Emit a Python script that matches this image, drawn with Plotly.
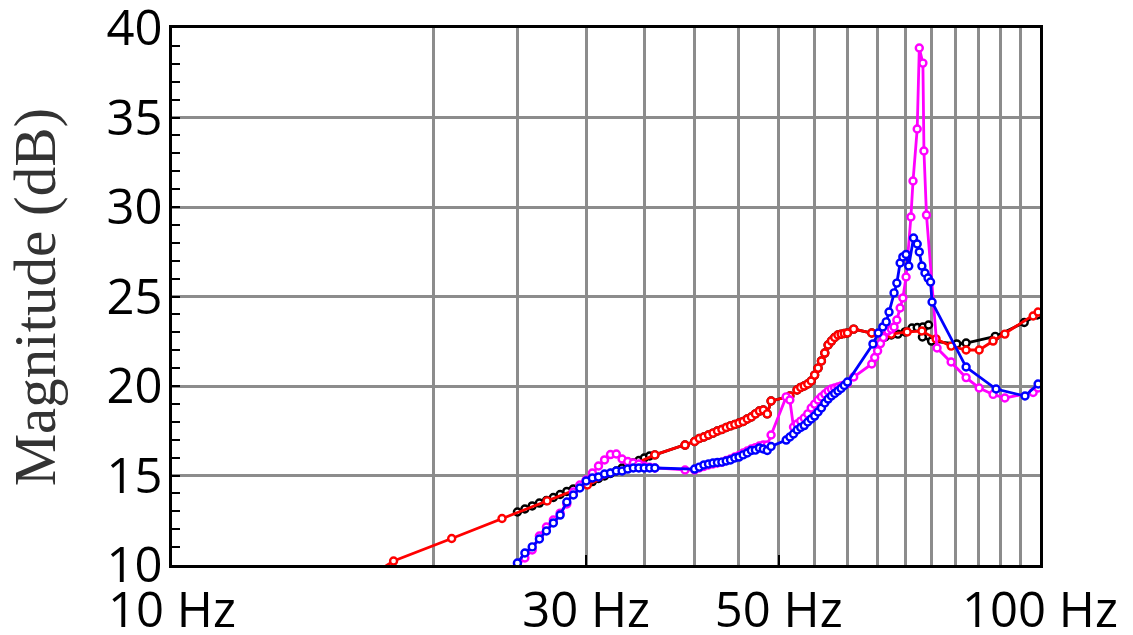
import plotly.graph_objects as go

# ---------------- data (frequency in Hz, magnitude in dB) ----------------
black_freq = [25, 25.5, 26, 26.5, 27, 27.5, 28, 28.5, 29, 29.5, 30, 30.5, 31, 31.5, 32, 32.5,
              33, 33.5, 34, 34.5, 35, 35.5, 36, 39, 40, 40.5, 41, 41.5, 42, 42.5, 43, 43.5, 44,
              44.5, 45, 45.5, 46, 46.5, 47, 47.5, 48, 48.5, 49, 51.5, 52.5, 53, 53.5, 54, 54.5,
              55, 55.5, 56, 56.5, 57, 57.5, 58, 58.5, 59, 59.5, 60, 61, 64, 66.3, 67.4, 68.6,
              69.9, 71.2, 72.2, 73.3, 74.4, 73.2, 75.0, 80.2, 82.2, 88.8, 95.9, 99.3, 101]
black_db = [12.96, 13.13, 13.30, 13.46, 13.60, 13.77, 13.94, 14.11, 14.25, 14.39, 14.53, 14.66,
            14.83, 14.97, 15.11, 15.25, 15.42, 15.56, 15.70, 15.84, 15.98, 16.09, 16.15, 16.70,
            16.90, 17.07, 17.15, 17.26, 17.37, 17.49, 17.57, 17.68, 17.77, 17.85, 17.93, 18.02,
            18.16, 18.27, 18.44, 18.60, 18.66, 18.44, 19.16, 19.44, 19.78, 19.92, 20.00, 20.11,
            20.28, 20.61, 21.00, 21.40, 21.84, 22.29, 22.51, 22.71, 22.85, 22.90, 22.93, 22.96,
            23.18, 22.96, 22.74, 22.85, 22.90, 23.02, 23.24, 23.27, 23.30, 23.41, 22.74, 22.51,
            22.35, 22.40, 22.77, 23.55, 23.97, 24.1]

red_freq = [15, 18.0, 21.0, 24.0, 27.05, 30.1, 36.0, 39.0, 40, 40.5, 41, 41.5, 42, 42.5, 43,
            43.5, 44, 44.5, 45, 45.5, 46, 46.5, 47, 47.5, 48, 48.5, 49, 51.5, 52.5, 53, 53.5,
            54, 54.5, 55, 55.5, 56, 56.5, 57, 57.5, 58, 58.5, 59, 59.5, 60, 61, 64, 67.4, 70.3,
            73.1, 75.9, 79.0, 82.2, 85.1, 88.3, 91.1, 98.2, 99.5, 102]
red_db = [7.8, 10.22, 11.48, 12.60, 13.58, 14.47, 16.15, 16.70, 16.90, 17.07, 17.15, 17.26,
          17.37, 17.49, 17.57, 17.68, 17.77, 17.85, 17.93, 18.02, 18.16, 18.27, 18.44, 18.60,
          18.66, 18.44, 19.16, 19.44, 19.78, 19.92, 20.00, 20.11, 20.28, 20.61, 21.00, 21.40,
          21.84, 22.29, 22.51, 22.71, 22.85, 22.90, 22.93, 22.96, 23.18, 22.96, 22.90, 23.02,
          23.07, 22.63, 22.23, 22.01, 22.01, 22.51, 22.90, 23.91, 24.13, 24.4]

magenta_freq = [24.6, 25, 25.5, 26, 26.5, 27, 27.5, 28, 28.5, 29, 29.5, 30, 30.5, 31, 31.5, 32,
                32.5, 33, 33.5, 34, 34.5, 35, 35.5, 36, 39, 40, 40.5, 41, 41.5, 42, 42.5, 43,
                43.5, 44, 44.5, 45, 45.5, 46, 46.5, 47, 47.5, 48, 48.5, 49, 51, 51.5, 52, 52.5,
                53, 53.5, 54, 54.5, 55, 55.5, 56, 56.5, 57, 57.5, 58, 58.5, 59, 59.5, 60, 61, 64,
                64.5, 65, 65.5, 66, 66.8, 67.4, 67.9, 68.4, 69.0, 69.5, 70.1, 71.0, 71.4, 72.2,
                72.6, 73.3, 73.5, 74.0, 76.1, 79.0, 82.2, 85.1, 88.3, 91.1, 98.2, 99.5, 102]
magenta_db = [9.4, 9.95, 10.39, 10.84, 11.62, 12.12, 12.51, 12.90, 13.41, 14.08, 14.47, 14.75,
              15.14, 15.53, 15.87, 16.17, 16.20, 15.92, 15.78, 15.70, 15.64, 15.53, 15.47, 15.42,
              15.31, 15.31, 15.42, 15.50, 15.59, 15.64, 15.70, 15.75, 15.84, 15.92, 16.03, 16.12,
              16.26, 16.37, 16.48, 16.56, 16.65, 16.70, 16.70, 17.26, 19.39, 19.22, 17.71, 17.88,
              18.04, 18.21, 18.44, 18.77, 18.99, 19.22, 19.39, 19.55, 19.72, 19.83, 19.89, 19.94,
              20.00, 20.06, 20.14, 20.50, 21.23, 21.59, 21.96, 22.37, 22.71, 23.07, 23.18, 23.30,
              23.69, 24.36, 24.92, 26.09, 29.44, 31.45, 34.36, 38.88, 38.04, 33.13, 29.55, 22.12,
              21.34, 20.47, 19.89, 19.53, 19.33, 19.64, 19.89, 20.3]

blue_freq = [24.6, 25, 25.5, 26, 26.5, 27, 27.5, 28, 28.5, 29, 29.5, 30, 30.5, 31, 31.5, 32,
             32.5, 33, 33.5, 34, 34.5, 35, 35.5, 36, 40, 40.5, 41, 41.5, 42, 42.5, 43, 43.5, 44,
             44.5, 45, 45.5, 46, 46.5, 47, 47.5, 48, 48.5, 49, 51, 51.5, 52, 52.5, 53, 53.5, 54,
             54.5, 55, 55.5, 56, 56.5, 57, 57.5, 58, 58.5, 59, 59.5, 60, 64.2, 65.1, 65.9, 66.5,
             67.0, 67.9, 68.4, 69.0, 69.5, 70.1, 70.6, 71.5, 72.2, 72.6, 73.1, 73.7, 74.3, 74.8,
             75.1, 82.2, 89.0, 96.1, 99.5, 102]
blue_db = [9.5, 10.11, 10.67, 11.01, 11.45, 11.90, 12.35, 12.79, 13.52, 13.91, 14.30, 14.69,
           14.86, 14.92, 15.08, 15.14, 15.25, 15.25, 15.36, 15.42, 15.42, 15.42, 15.42, 15.42,
           15.36, 15.47, 15.59, 15.64, 15.70, 15.73, 15.75, 15.81, 15.87, 15.98, 16.03, 16.15,
           16.26, 16.40, 16.42, 16.54, 16.48, 16.40, 16.62, 16.98, 17.15, 17.32, 17.54, 17.68,
           17.79, 17.99, 18.16, 18.32, 18.55, 18.77, 19.05, 19.27, 19.44, 19.58, 19.72, 19.86,
           20.03, 20.22, 22.35, 22.96, 23.30, 23.58, 24.13, 25.20, 25.75, 26.87, 27.21, 27.35,
           26.70, 28.27, 27.93, 27.49, 26.70, 26.31, 26.03, 25.81, 24.69, 21.06, 19.83, 19.44,
           20.11, 20.8]

x_tick_vals = [10, 30, 50, 100]
x_tick_text = ["10 Hz", "30 Hz", "50 Hz", "100 Hz"]
x_grid_vals = [20, 25, 30, 35, 40, 45, 50, 55, 60, 65, 70, 75, 80, 85, 90, 95, 100]
y_tick_vals = [10, 15, 20, 25, 30, 35, 40]
y_title = "Magnitude (dB)"

# ---------------- figure ----------------
series = [
    (black_freq, black_db, "#000000"),
    (red_freq, red_db, "#ff0000"),
    (magenta_freq, magenta_db, "#ff00ff"),
    (blue_freq, blue_db, "#0000ff"),
]

fig = go.Figure()
for fx, fy, col in series:
    fig.add_trace(go.Scatter(
        x=fx, y=fy, mode="lines+markers",
        line=dict(color=col, width=2.8),
        marker=dict(symbol="circle", size=7, color="white",
                    line=dict(color=col, width=2.4)),
        showlegend=False,
    ))

grid_col = "#8c8c8c"
fig.update_layout(
    width=1133, height=635,
    margin=dict(l=172, r=93, t=28, b=70, autoexpand=False),
    paper_bgcolor="white", plot_bgcolor="white",
    xaxis=dict(
        type="log", range=[1, 2], automargin=False,
        tickmode="array", tickvals=x_tick_vals, ticktext=x_tick_text,
        ticks="inside", ticklen=10, tickwidth=2, tickcolor="black",
        showgrid=True, gridcolor=grid_col, gridwidth=2.5,
        minor=dict(tickmode="array", tickvals=x_grid_vals, showgrid=True,
                   gridcolor=grid_col, gridwidth=2.5, ticks=""),
        showline=True, linecolor="black", linewidth=2.5, mirror=True,
        zeroline=False, ticklabeloverflow="allow",
        tickfont=dict(family="Open Sans", size=49, color="black"),
    ),
    yaxis=dict(
        range=[10, 40], automargin=False,
        tickmode="array", tickvals=y_tick_vals,
        ticks="inside", ticklen=8, tickwidth=2, tickcolor="black",
        showgrid=True, gridcolor=grid_col, gridwidth=2.5,
        minor=dict(dtick=1, ticks="inside", ticklen=8, tickwidth=2,
                   tickcolor="black", showgrid=False),
        showline=True, linecolor="black", linewidth=2.5, mirror=True,
        zeroline=False, ticklabeloverflow="allow",
        tickfont=dict(family="Open Sans", size=49, color="black"),
        ticklabelstandoff=-3,
    ),
    annotations=[dict(
        text=y_title, xref="paper", yref="paper", x=-0.158, y=0.5,
        xanchor="center", yanchor="middle", textangle=-90, showarrow=False,
        font=dict(family="Liberation Serif", size=59, color="#333333"),
    )],
)

fig.write_html(
    "out.html",
    config={"displayModeBar": False},
    post_script="document.body.style.margin='0px';document.body.style.padding='0px';"
                "document.documentElement.style.overflow='hidden';",
)
